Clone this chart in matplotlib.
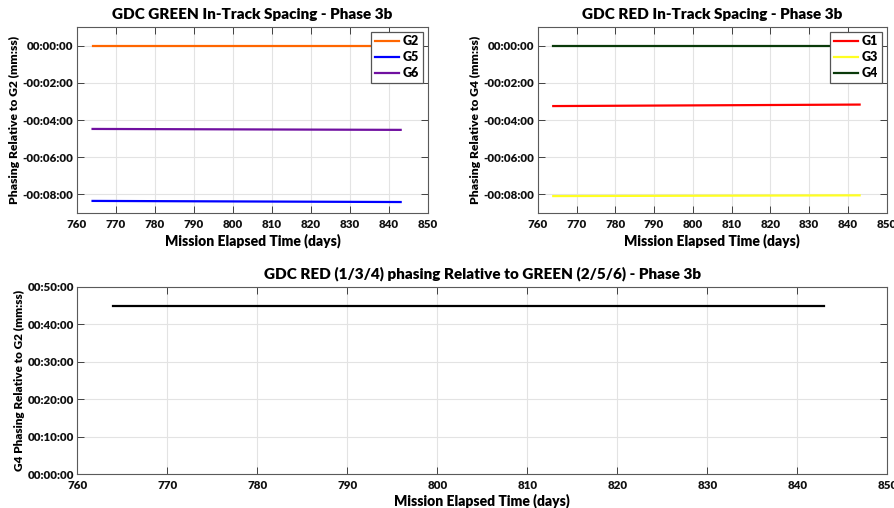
import matplotlib.pyplot as plt
from matplotlib.ticker import FuncFormatter, MultipleLocator

plt.rcParams['font.family'] = ['Lato', 'DejaVu Sans']
plt.rcParams['font.weight'] = 'bold'

# mission elapsed time (days), start and end of the plotted span
days = [764, 843]

# phasing in minutes
g2 = [0.0, 0.0]
g5 = [-8.35, -8.41]
g6 = [-4.48, -4.53]

g1 = [-3.25, -3.17]
g3 = [-8.09, -8.05]
g4 = [0.0, 0.0]

red_vs_green = [44.92, 44.92]


def hms(v, pos):
    # value in minutes -> hh:mm:ss
    sign = '-' if v < -1e-9 else ''
    s = int(round(abs(v) * 60))
    return '%s%02d:%02d:%02d' % (sign, s // 3600, (s % 3600) // 60, s % 60)


def style(ax):
    ax.grid(True, color='#e3e3e3', linewidth=0.8)
    ax.set_axisbelow(True)
    for sp in ax.spines.values():
        sp.set_color('#5a5a5a')
        sp.set_linewidth(0.8)
    ax.tick_params(direction='in', top=True, right=True, length=5,
                   labelsize=8.3, colors='#404040', width=0.7, pad=4)
    ax.tick_params(axis='y', pad=2.5)
    ax.tick_params(axis='both', labelcolor='#111111')
    ax.yaxis.set_major_formatter(FuncFormatter(hms))
    ax.set_xlim(760, 850)
    ax.xaxis.set_major_locator(MultipleLocator(10))


def bold_ticks(ax):
    for lab in ax.get_xticklabels() + ax.get_yticklabels():
        lab.set_fontweight('heavy')


def legend(ax):
    leg = ax.legend(loc='upper right', bbox_to_anchor=(0.985, 0.975), fontsize=9, fancybox=False,
                    edgecolor='#555555', framealpha=1, borderaxespad=0, handlelength=1.9,
                    borderpad=0.3, labelspacing=0.3, handletextpad=0.3)
    leg.get_frame().set_linewidth(0.9)
    for t in leg.get_texts():
        t.set_fontweight('heavy')


fig = plt.figure(figsize=(8.94, 5.08), dpi=100)

ax1 = fig.add_axes([0.0861, 0.5807, 0.3926, 0.3661])
ax1.plot(days, g2, color='#ff6600', lw=1.6, label='G2')
ax1.plot(days, g5, color='#0000ff', lw=1.6, label='G5')
ax1.plot(days, g6, color='#7010a0', lw=1.6, label='G6')
ax1.set_ylim(-9, 1)
ax1.yaxis.set_major_locator(MultipleLocator(2))
style(ax1)
ax1.set_title('GDC GREEN In-Track Spacing - Phase 3b', fontsize=11, fontweight='heavy', pad=6)
ax1.set_xlabel('Mission Elapsed Time (days)', fontsize=10, fontweight='heavy', labelpad=3)
ax1.set_ylabel('Phasing Relative to G2 (mm:ss)', fontsize=8.7, fontweight='heavy', labelpad=2)
legend(ax1)

ax2 = fig.add_axes([0.6015, 0.5807, 0.3904, 0.3661])
ax2.plot(days, g1, color='#ff0000', lw=1.6, label='G1')
ax2.plot(days, g3, color='#ffff22', lw=1.6, label='G3')
ax2.plot(days, g4, color='#0a3a0a', lw=1.6, label='G4')
ax2.set_ylim(-9, 1)
ax2.yaxis.set_major_locator(MultipleLocator(2))
style(ax2)
ax2.set_title('GDC RED In-Track Spacing - Phase 3b', fontsize=11, fontweight='heavy', pad=6)
ax2.set_xlabel('Mission Elapsed Time (days)', fontsize=10, fontweight='heavy', labelpad=3)
ax2.set_ylabel('Phasing Relative to G4 (mm:ss)', fontsize=8.7, fontweight='heavy', labelpad=2)
legend(ax2)

ax3 = fig.add_axes([0.0865, 0.0663, 0.906, 0.3693])
ax3.plot(days, red_vs_green, color='black', lw=1.6)
ax3.set_ylim(0, 50)
ax3.yaxis.set_major_locator(MultipleLocator(10))
style(ax3)
ax3.set_title('GDC RED (1/3/4) phasing Relative to GREEN (2/5/6) - Phase 3b', fontsize=11,
              fontweight='heavy', pad=6)
ax3.set_xlabel('Mission Elapsed Time (days)', fontsize=10, fontweight='heavy', labelpad=2)
ax3.set_ylabel('G4 Phasing Relative to G2 (mm:ss)', fontsize=8.5, fontweight='heavy', labelpad=2)

for a in (ax1, ax2, ax3):
    bold_ticks(a)

fig.savefig('out.png', dpi=100)
